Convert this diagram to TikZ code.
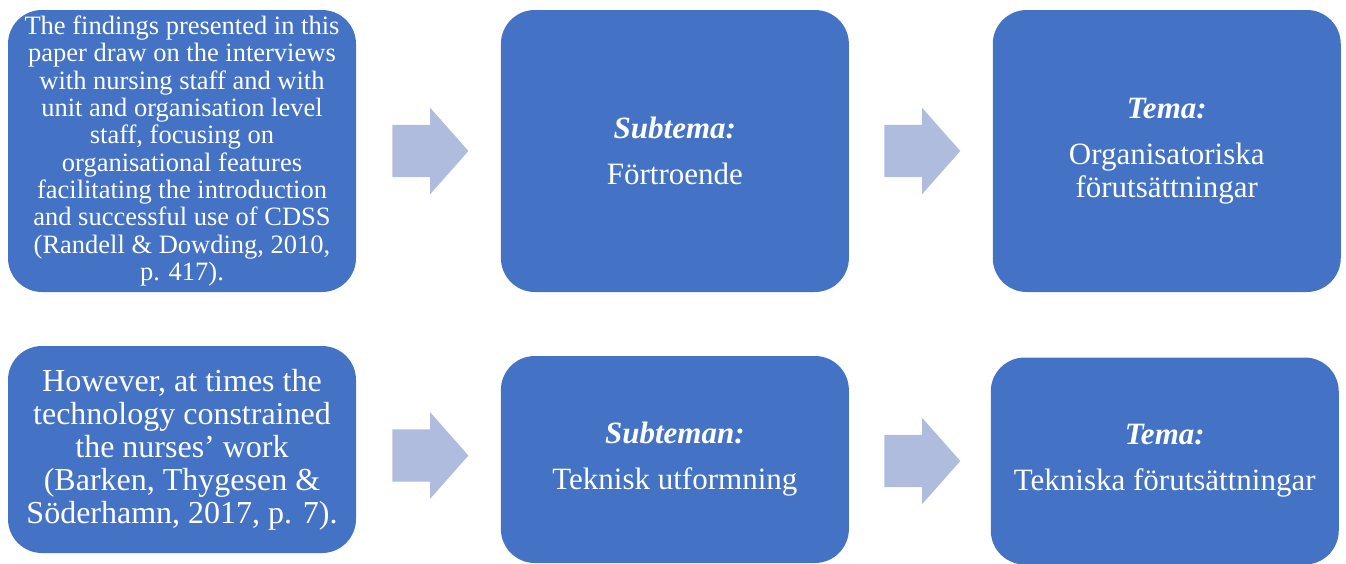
\documentclass[tikz,border=0pt]{standalone}
\usepackage{fontspec}
\setmainfont{Liberation Serif}
\usetikzlibrary{positioning, shapes.arrows}
\definecolor{kortbla}{RGB}{68,114,196}
\definecolor{pilbla}{RGB}{176,188,222}

\tikzset{
    kort/.style={fill=kortbla, text=white, rounded corners=34pt, align=center,
        minimum width=348pt, inner sep=3pt},
    pil/.style={single arrow, fill=pilbla, inner xsep=0pt, inner ysep=26pt, minimum height=76pt,
        single arrow head extend=17pt, single arrow tip angle=97}
}

\begin{document}
\begin{tikzpicture}[x=1pt, y=1pt]
            \useasboundingbox (0,0) rectangle (1346,-563);
            % upper row
            \node[kort, minimum height=282pt, font=\fontsize{26.5}{27.3}\selectfont] (fynd) at (182,-151)
                {The findings presented in this\\paper draw on the interviews\\with nursing staff and with\\unit and organisation level\\staff, focusing on\\organisational features\\facilitating the introduction\\and successful use of CDSS\\(Randell \& Dowding, 2010,\\p. 417).};
            \node[pil, right=36pt of fynd] (pil1) {};
            \node[kort, minimum height=282pt, font=\fontsize{31}{33}\selectfont, right=32pt of pil1] (subtema)
                {\textbf{\textit{Subtema:}}\\[13pt]Förtroende};
            \node[pil, right=35pt of subtema] (pil2) {};
            \node[kort, minimum height=282pt, font=\fontsize{31}{33}\selectfont, right=32pt of pil2] (tema)
                {\textbf{\textit{Tema:}}\\[13pt]Organisatoriska\\förutsättningar};
            % lower row
            \node[kort, minimum height=207pt, font=\fontsize{32}{33}\selectfont] (fynd2) at (182,-449.5)
                {However, at times the\\technology constrained\\the nurses’ work\\(Barken, Thygesen \&\\Söderhamn, 2017, p. 7).};
            \node[pil, right=36pt of fynd2, yshift=-6pt] (pil3) {};
            \node[kort, minimum height=207pt, font=\fontsize{31}{33}\selectfont, right=32pt of pil3, yshift=-4pt] (subteman)
                {\textbf{\textit{Subteman:}}\\[13pt]Teknisk utformning};
            \node[pil, right=35pt of subteman, yshift=-1.5pt] (pil4) {};
            \node[kort, minimum height=207pt, font=\fontsize{31}{33}\selectfont, right=30pt of pil4] (tema2)
                {\textbf{\textit{Tema:}}\\[13pt]Tekniska förutsättningar};
        \end{tikzpicture}
\end{document}
